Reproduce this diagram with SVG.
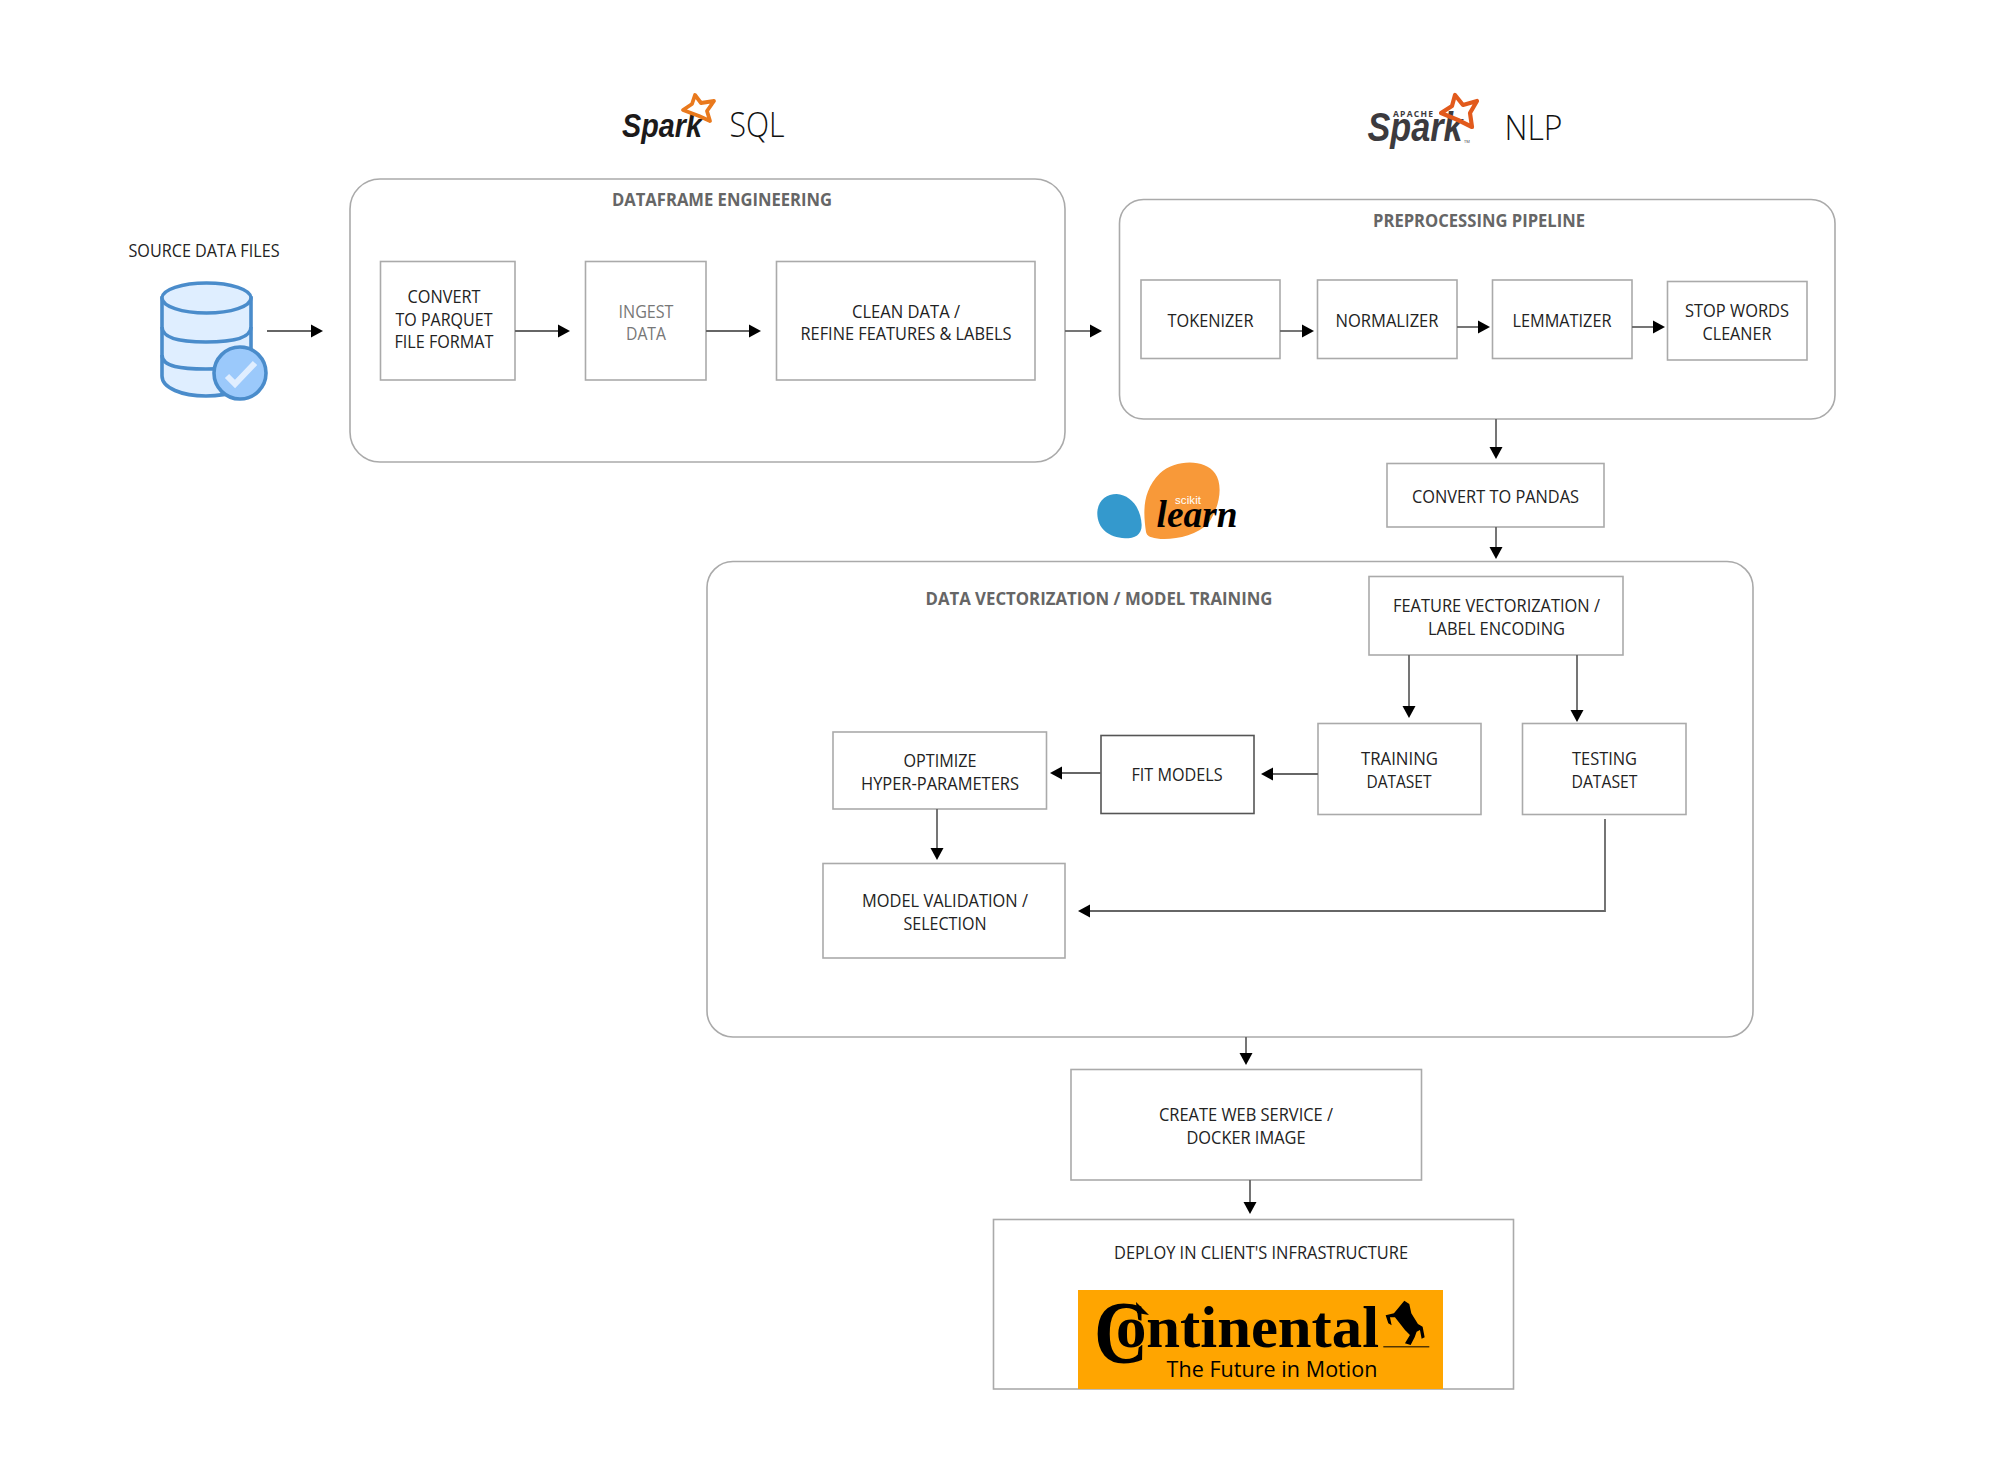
<svg xmlns="http://www.w3.org/2000/svg" width="2000" height="1465" viewBox="0 0 2000 1465">
<style>
text{font-family:"Open Sans","Noto Sans","Liberation Sans",sans-serif;font-size:17.6px;fill:#222;text-anchor:middle}
.title{font-weight:700;fill:#666}
.muted{fill:#777}
.box{fill:#fff;stroke:#aaa;stroke-width:1.6}
.group{fill:#fff;stroke:#aaa;stroke-width:1.6}
.dark{fill:#fff;stroke:#555;stroke-width:1.6}
.big{font-size:34.5px;font-weight:300;fill:#111}
.conn{fill:none;stroke:#666;stroke-width:1.8}
.db{fill:#dfeeff;stroke:#4a8ccb;stroke-width:3.6}
</style>
<defs>
<marker id="arrow" markerUnits="userSpaceOnUse" markerWidth="13" markerHeight="15" refX="6" refY="7" orient="auto"><path d="M0,0.5 L12,7 L0,13.5 Z" fill="#000"/></marker>
</defs>
<rect width="2000" height="1465" fill="#fff"/>

<g id="dataframe-engineering"><rect class="group" x="350" y="179" width="715" height="283" rx="30"/><text class="title" x="722" y="206" textLength="220" lengthAdjust="spacingAndGlyphs">DATAFRAME ENGINEERING</text></g>
<g id="preprocessing-pipeline"><rect class="group" x="1119.500" y="199.500" width="715.500" height="219.500" rx="24"/><text class="title" x="1479" y="227" textLength="212" lengthAdjust="spacingAndGlyphs">PREPROCESSING PIPELINE</text></g>
<g id="data-vectorization"><rect class="group" x="707" y="561.500" width="1046" height="475.500" rx="26"/><text class="title" x="1099" y="604.500" textLength="347" lengthAdjust="spacingAndGlyphs">DATA VECTORIZATION / MODEL TRAINING</text></g>

<g id="source-data">
<text x="204" y="257" textLength="151" lengthAdjust="spacingAndGlyphs">SOURCE DATA FILES</text>
<path class="db" d="M162,298 V376 C162,388 182,396 206,396 C230,396 251,388 251,376 V298 Z"/>
<path class="db" d="M162,327 C162,339 182,342 206,342 C230,342 251,339 251,327 M162,355 C162,367 182,369 206,369 C230,369 251,367 251,355" style="fill:none"/>
<ellipse class="db" cx="206.500" cy="298" rx="44.500" ry="15"/>
<circle cx="240" cy="373" r="26" fill="#9bc9fb" stroke="#4a8ccb" stroke-width="3.6"/>
<path d="M227,376 L235,384 L255,363" fill="none" stroke="#e0eeff" stroke-width="6"/>
</g>

<g id="convert-parquet"><rect class="box" x="380.500" y="261.500" width="134.500" height="118.500"/><text x="444" y="303" textLength="73" lengthAdjust="spacingAndGlyphs">CONVERT</text><text x="444" y="326" textLength="97" lengthAdjust="spacingAndGlyphs">TO PARQUET</text><text x="444" y="348" textLength="99" lengthAdjust="spacingAndGlyphs">FILE FORMAT</text></g>
<g id="ingest-data"><rect class="box" x="585.500" y="261.500" width="120.500" height="118.500"/><text class="muted" x="646" y="318" textLength="55" lengthAdjust="spacingAndGlyphs">INGEST</text><text class="muted" x="646" y="340" textLength="40" lengthAdjust="spacingAndGlyphs">DATA</text></g>
<g id="clean-data"><rect class="box" x="776.500" y="261.500" width="258.500" height="118.500"/><text x="906" y="317.500" textLength="108" lengthAdjust="spacingAndGlyphs">CLEAN DATA /</text><text x="906" y="340" textLength="211" lengthAdjust="spacingAndGlyphs">REFINE FEATURES &amp; LABELS</text></g>

<g id="tokenizer"><rect class="box" x="1141" y="280" width="139" height="78.500"/><text x="1210.500" y="327" textLength="86" lengthAdjust="spacingAndGlyphs">TOKENIZER</text></g>
<g id="normalizer"><rect class="box" x="1317.500" y="280" width="139.500" height="78.500"/><text x="1387" y="327" textLength="103" lengthAdjust="spacingAndGlyphs">NORMALIZER</text></g>
<g id="lemmatizer"><rect class="box" x="1492.500" y="280" width="139.500" height="78.500"/><text x="1562" y="327" textLength="99" lengthAdjust="spacingAndGlyphs">LEMMATIZER</text></g>
<g id="stop-words"><rect class="box" x="1667.500" y="281.500" width="139.500" height="78.500"/><text x="1737" y="317" textLength="104" lengthAdjust="spacingAndGlyphs">STOP WORDS</text><text x="1737" y="339.500" textLength="69" lengthAdjust="spacingAndGlyphs">CLEANER</text></g>

<g id="convert-pandas"><rect class="box" x="1387" y="463.500" width="217" height="63.500"/><text x="1495.500" y="503" textLength="167" lengthAdjust="spacingAndGlyphs">CONVERT TO PANDAS</text></g>
<g id="feature-vectorization"><rect class="box" x="1369" y="576.500" width="254" height="78.500"/><text x="1496.500" y="612" textLength="207" lengthAdjust="spacingAndGlyphs">FEATURE VECTORIZATION /</text><text x="1496.500" y="634.500" textLength="137" lengthAdjust="spacingAndGlyphs">LABEL ENCODING</text></g>
<g id="training-dataset"><rect class="box" x="1318" y="723.500" width="163" height="91"/><text x="1399.500" y="765" textLength="77" lengthAdjust="spacingAndGlyphs">TRAINING</text><text x="1399" y="787.500" textLength="65" lengthAdjust="spacingAndGlyphs">DATASET</text></g>
<g id="testing-dataset"><rect class="box" x="1522.500" y="723.500" width="163.500" height="91"/><text x="1604.500" y="765" textLength="65" lengthAdjust="spacingAndGlyphs">TESTING</text><text x="1604.500" y="787.500" textLength="66" lengthAdjust="spacingAndGlyphs">DATASET</text></g>
<g id="fit-models"><rect class="dark" x="1101" y="735.500" width="153" height="78"/><text x="1177" y="781" textLength="91" lengthAdjust="spacingAndGlyphs">FIT MODELS</text></g>
<g id="optimize"><rect class="box" x="833" y="732" width="213.500" height="77"/><text x="940" y="767" textLength="73" lengthAdjust="spacingAndGlyphs">OPTIMIZE</text><text x="940" y="790" textLength="158" lengthAdjust="spacingAndGlyphs">HYPER-PARAMETERS</text></g>
<g id="model-validation"><rect class="box" x="823" y="863.500" width="242" height="94.500"/><text x="945" y="907" textLength="166" lengthAdjust="spacingAndGlyphs">MODEL VALIDATION /</text><text x="945" y="930" textLength="83" lengthAdjust="spacingAndGlyphs">SELECTION</text></g>
<g id="web-service"><rect class="box" x="1071" y="1069.500" width="350.500" height="110.500"/><text x="1246" y="1121" textLength="174" lengthAdjust="spacingAndGlyphs">CREATE WEB SERVICE /</text><text x="1246" y="1144" textLength="119" lengthAdjust="spacingAndGlyphs">DOCKER IMAGE</text></g>

<g id="deploy">
<rect class="box" x="993.500" y="1219.500" width="520" height="169.500"/>
<text x="1261" y="1259" textLength="294" lengthAdjust="spacingAndGlyphs">DEPLOY IN CLIENT'S INFRASTRUCTURE</text>
<rect x="1078" y="1290" width="365" height="99" fill="#ffa500"/>
<text x="1094" y="1362" style="font-family:'Liberation Serif',serif;font-weight:700;font-size:88px;fill:#000;text-anchor:start" textLength="54" lengthAdjust="spacingAndGlyphs">C</text>
<text x="1116" y="1347" style="font-family:'Liberation Serif',serif;font-weight:700;font-size:60px;fill:#000;stroke:#ffa500;stroke-width:2.500;paint-order:stroke;text-anchor:start" textLength="263" lengthAdjust="spacingAndGlyphs">ontinental</text>
<path d="M1136,1302 L1149,1315 L1137,1313 Z" fill="#000"/>
<g transform="translate(1070,1280) scale(.3333)" fill="#000">
<path d="M1003,62 L1018,72 L1024,100 L1044,132 L1058,140 L1064,172 L1055,176 L1050,150 L1040,155 L1034,172 L1022,195 L1005,190 L1020,165 L1005,150 L988,128 L975,112 L960,112 L965,136 L955,130 L947,106 L972,100 L985,84 Z"/>
<rect x="940" y="199" width="138" height="3"/>
</g>
<text x="1272" y="1377" style="font-size:21.500px;fill:#000" textLength="211">The Future in Motion</text>
</g>

<g id="spark-sql">
<text x="662" y="137" style="font-family:'Liberation Sans',sans-serif;font-weight:700;font-style:italic;font-size:33px;fill:#1c1a1a" textLength="80" lengthAdjust="spacingAndGlyphs">Spark</text>
<path d="M695,95 L701,103 L714,101 L707,111 L710,121 L699,116 L683,110 L692,104 Z" fill="none" stroke="#e9791d" stroke-width="3.800" stroke-linejoin="round"/>
<text class="big" x="757" y="137" textLength="55" lengthAdjust="spacingAndGlyphs">SQL</text>
</g>
<g id="spark-nlp">
<text x="1415" y="141" style="font-family:'Liberation Sans',sans-serif;font-weight:700;font-style:italic;font-size:41px;fill:#3c3a3e" textLength="95" lengthAdjust="spacingAndGlyphs">Spark</text>
<text x="1413" y="117" style="font-size:8.500px;font-weight:700;fill:#3c3a3e" textLength="40">APACHE</text>
<text x="1467" y="143" style="font-size:4px;fill:#3c3a3e">TM</text>
<path d="M1455,95 L1463,105 L1477,101 L1470,113 L1472,127 L1458,120 L1441,113 L1452,106 Z" fill="none" stroke="#e25a1c" stroke-width="4.200" stroke-linejoin="round"/>
<text class="big" x="1533.500" y="140" textLength="58" lengthAdjust="spacingAndGlyphs">NLP</text>
</g>
<g id="scikit-learn">
<g transform="translate(1080,450) scale(.3333)">
<path fill="#3499cd" d="M52,185 C55,150 80,132 110,132 C150,135 182,170 185,225 C185,255 165,265 135,265 C85,262 50,235 52,185Z"/>
<path fill="#f89939" d="M198,245 C190,190 185,125 240,70 C285,28 375,26 405,70 C430,105 420,170 385,220 C345,265 250,275 215,262 C205,258 200,255 198,245Z"/>
</g>
<text x="1188" y="504" style="font-family:'Liberation Sans',sans-serif;font-size:11.500px;fill:#fff" textLength="26">scikit</text>
<text x="1197" y="527" style="font-family:'Liberation Serif',serif;font-weight:700;font-style:italic;font-size:37px;fill:#000" textLength="81" lengthAdjust="spacingAndGlyphs">learn</text>
</g>

<g id="connectors" class="conn" marker-end="url(#arrow)">
<path d="M267,331 H317"/>
<path d="M515,331 H564"/>
<path d="M706,331 H755"/>
<path d="M1065,331 H1096"/>
<path d="M1280,331 H1308"/>
<path d="M1457,327 H1484"/>
<path d="M1632,327 H1659"/>
<path d="M1496,419 V453"/>
<path d="M1496,527 V553"/>
<path d="M1409,655 V712"/>
<path d="M1577,655 V716"/>
<path d="M1318,774 H1267"/>
<path d="M1101,773 H1056"/>
<path d="M937,809 V854"/>
<path d="M1605,819 V911 H1084"/>
<path d="M1246,1037 V1059"/>
<path d="M1250,1180 V1208"/>
</g>
</svg>
